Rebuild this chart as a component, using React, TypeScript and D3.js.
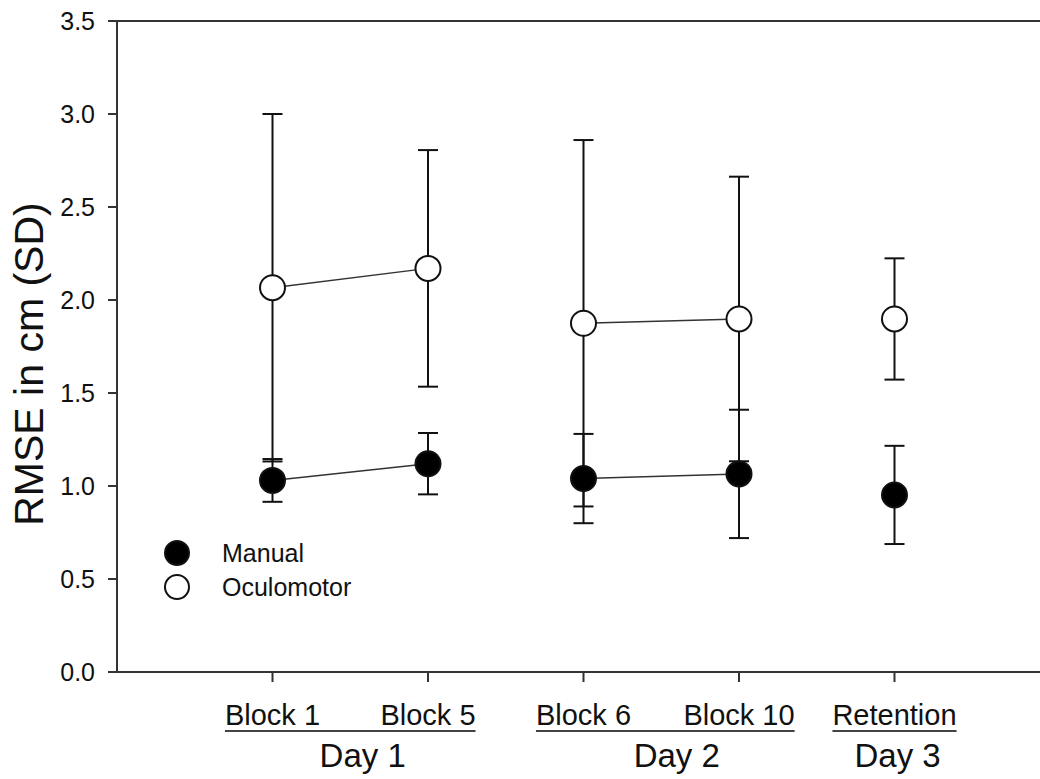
import React from 'react';
import * as d3 from 'd3';

// Conditions on the x axis (positions 1..5)
const conditions = ['Block 1', 'Block 5', 'Block 6', 'Block 10', 'Retention'];
const conditionPos = [1, 2, 3, 4, 5];

// Day groups: label, first and last condition index, label centre (x units)
const dayLabels = ['Day 1', 'Day 2', 'Day 3'];
const dayFirst = [0, 2, 4];
const dayLast = [1, 3, 4];
const dayCenter = [1.58, 3.6, 5.02];

// Segments joined by a line (index pairs)
const joined: [number, number][] = [[0, 1], [2, 3]];

// Series
const manualMean = [1.03, 1.12, 1.04, 1.065, 0.952];
const manualSD = [0.115, 0.165, 0.24, 0.345, 0.264];
const oculoMean = [2.066, 2.17, 1.875, 1.898, 1.898];
const oculoSD = [0.934, 0.636, 0.985, 0.765, 0.326];

const yTicks = [0, 0.5, 1.0, 1.5, 2.0, 2.5, 3.0, 3.5];

const FONT = '"Liberation Sans", Arial, Helvetica, sans-serif';
const LABEL_SIZE = 29;

const W = 1040;
const H = 779;

// measure text width with a canvas so underlines span the labels
let ctx: CanvasRenderingContext2D | null = null;
const textWidth = (s: string, size: number) => {
  if (!ctx) ctx = document.createElement('canvas').getContext('2d');
  if (!ctx) return s.length * size * 0.5;
  ctx.font = `${size}px ${FONT}`;
  return ctx.measureText(s).width;
};

const App: React.FC = () => {
  const x = d3.scaleLinear().domain([0, 6]).range([117, 1050]);
  const y = d3.scaleLinear().domain([0, 3.5]).range([672, 21]);

  const r = 12.5;
  const cap = 10;

  const series = [
    { name: 'Manual', mean: manualMean, sd: manualSD, fill: '#000' },
    { name: 'Oculomotor', mean: oculoMean, sd: oculoSD, fill: '#fff' },
  ];

  return (
    <svg width={W} height={H} style={{ display: 'block', position: 'absolute', left: 0, top: 0, background: '#fff' }}
      fontFamily={FONT}>
      {/* frame lines */}
      <line x1={x(0)} x2={W} y1={y(0)} y2={y(0)} stroke="#333" strokeWidth={2} />
      <line x1={x(0)} x2={W} y1={y(3.5)} y2={y(3.5)} stroke="#333" strokeWidth={2} />
      <line x1={x(0)} x2={x(0)} y1={y(0) + 1} y2={y(3.5) - 1} stroke="#333" strokeWidth={2} />

      {/* y ticks */}
      {yTicks.map((t) => (
        <g key={t}>
          <line x1={x(0) - 9} x2={x(0)} y1={y(t)} y2={y(t)} stroke="#333" strokeWidth={2} />
          <text x={95} y={y(t)} dy="0.36em" textAnchor="end" fontSize={25} fill="#111">
            {d3.format('.1f')(t)}
          </text>
        </g>
      ))}

      {/* y title */}
      <text transform={`translate(43,${364}) rotate(-90)`} textAnchor="middle" fontSize={41} fill="#111">
        RMSE in cm (SD)
      </text>

      {/* x ticks and labels */}
      {conditions.map((c, i) => (
        <g key={c}>
          <line x1={x(conditionPos[i])} x2={x(conditionPos[i])} y1={y(0)} y2={y(0) + 10} stroke="#333" strokeWidth={2} />
          <text x={x(conditionPos[i])} y={725} textAnchor="middle" fontSize={LABEL_SIZE} fill="#111">
            {c}
          </text>
        </g>
      ))}

      {/* day groups */}
      {dayLabels.map((d, i) => {
        const a = x(conditionPos[dayFirst[i]]) - textWidth(conditions[dayFirst[i]], LABEL_SIZE) / 2;
        const b = x(conditionPos[dayLast[i]]) + textWidth(conditions[dayLast[i]], LABEL_SIZE) / 2;
        return (
          <g key={d}>
            <line x1={a} x2={b} y1={731} y2={731} stroke="#444" strokeWidth={2} />
            <text x={x(dayCenter[i])} y={767} textAnchor="middle" fontSize={33} fill="#111">
              {d}
            </text>
          </g>
        );
      })}

      {/* connecting lines */}
      {series.map((s) =>
        joined.map(([a, b]) => (
          <line key={s.name + a} x1={x(conditionPos[a])} y1={y(s.mean[a])} x2={x(conditionPos[b])} y2={y(s.mean[b])}
            stroke="#333" strokeWidth={1.5} />
        ))
      )}

      {/* error bars */}
      {series.map((s) =>
        s.mean.map((m, i) => {
          const cx = x(conditionPos[i]);
          const hi = y(m + s.sd[i]);
          const lo = y(m - s.sd[i]);
          return (
            <g key={s.name + i} stroke="#111" strokeWidth={2}>
              <line x1={cx} x2={cx} y1={hi} y2={lo} />
              <line x1={cx - cap} x2={cx + cap} y1={hi} y2={hi} />
              <line x1={cx - cap} x2={cx + cap} y1={lo} y2={lo} />
            </g>
          );
        })
      )}

      {/* markers */}
      {series.map((s) =>
        s.mean.map((m, i) => (
          <circle key={s.name + 'c' + i} cx={x(conditionPos[i])} cy={y(m)} r={r} fill={s.fill} stroke="#111" strokeWidth={2} />
        ))
      )}

      {/* legend */}
      {series.map((s, i) => (
        <g key={s.name + 'leg'}>
          <circle cx={177} cy={553 + i * 34} r={12} fill={s.fill} stroke="#111" strokeWidth={2} />
          <text x={222} y={553 + i * 34} dy="0.36em" fontSize={25} fill="#111">
            {s.name}
          </text>
        </g>
      ))}
    </svg>
  );
};

export default App;
